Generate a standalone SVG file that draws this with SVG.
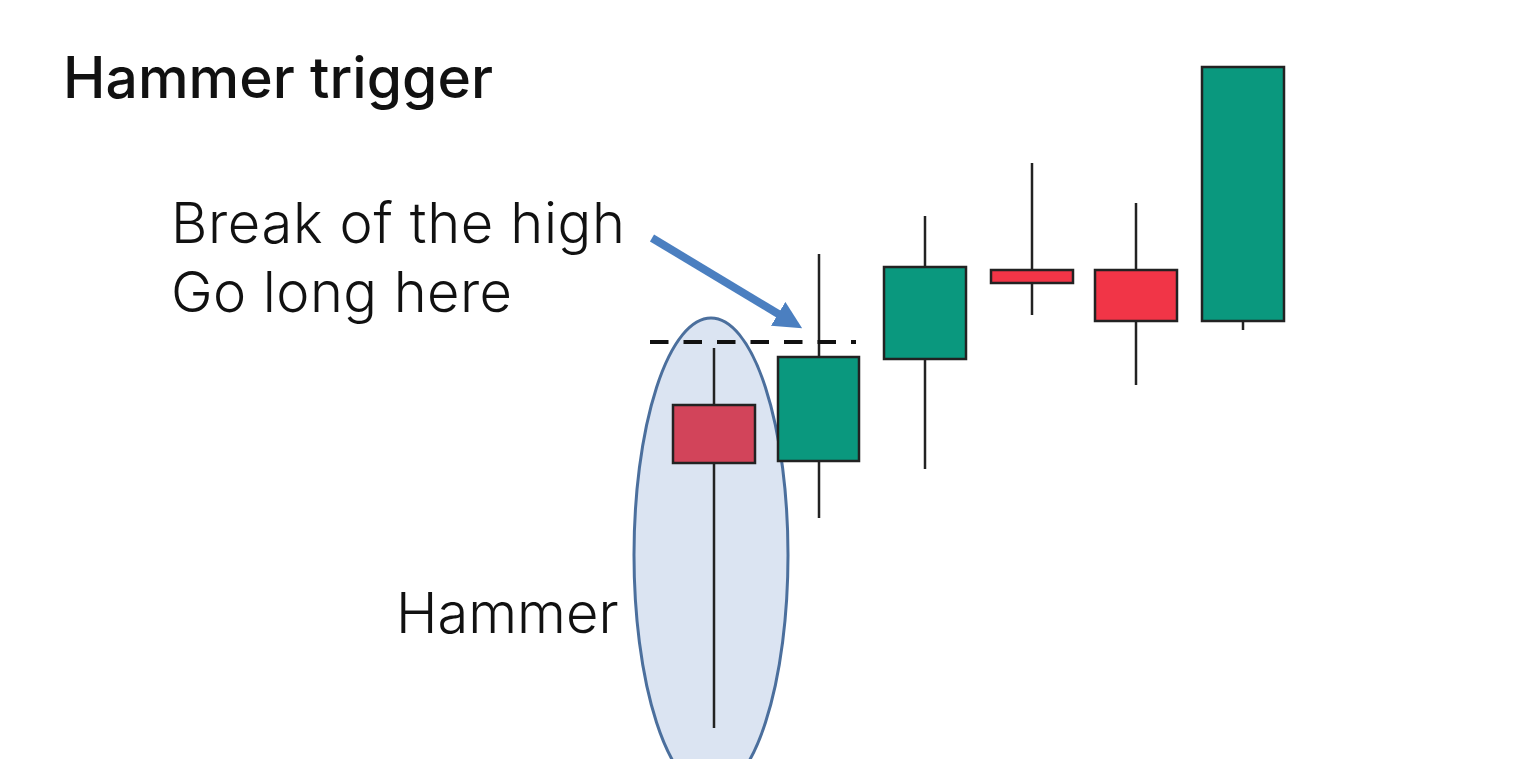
<svg xmlns="http://www.w3.org/2000/svg" width="1518" height="759" viewBox="0 0 1518 759">
  <style>
    .txt { font-family: Inter, "Noto Sans", "Liberation Sans", sans-serif; fill: #111; }
    .title { font-size: 57px; font-weight: 500; }
    .body { font-size: 56px; font-weight: 300; }
    .wick { stroke: #222; stroke-width: 2.5; }
    .body-c { stroke: #222; stroke-width: 2.5; }
    .green { fill: #0a987e; }
    .red { fill: #f13547; }
    .hred { fill: #d2445a; }
  </style>
  <defs>
    <marker id="ah" markerUnits="userSpaceOnUse" markerWidth="30" markerHeight="30" refX="8" refY="14" orient="auto">
      <path d="M0,0 L28,14 L0,28 z" fill="#4b7fc0"/>
    </marker>
  </defs>
  <rect width="1518" height="759" fill="#ffffff"/>

  <text class="txt title" x="63" y="98" textLength="430" lengthAdjust="spacing">Hammer trigger</text>

  <g id="label-break">
    <text class="txt body" x="171" y="243" textLength="454" lengthAdjust="spacing">Break of the high</text>
    <text class="txt body" x="171" y="312" textLength="341" lengthAdjust="spacing">Go long here</text>
  </g>

  <g id="hammer-ellipse">
    <ellipse cx="711" cy="555" rx="77" ry="237" fill="#dbe4f2" stroke="#4b6f9d" stroke-width="3"/>
  </g>
  <g id="label-hammer">
    <text class="txt body" x="396" y="633">Hammer</text>
  </g>

  <g id="candle-1">
    <line class="wick" x1="714" y1="348" x2="714" y2="728"/>
    <rect class="body-c hred" x="673" y="405" width="82" height="58"/>
  </g>
  <g id="candle-2">
    <line class="wick" x1="819" y1="254" x2="819" y2="518"/>
    <rect class="body-c green" x="778" y="357" width="81" height="104"/>
  </g>
  <g id="candle-3">
    <line class="wick" x1="925" y1="216" x2="925" y2="469"/>
    <rect class="body-c green" x="884" y="267" width="82" height="92"/>
  </g>
  <g id="candle-4">
    <line class="wick" x1="1032" y1="163" x2="1032" y2="315"/>
    <rect class="body-c red" x="991" y="270" width="82" height="13"/>
  </g>
  <g id="candle-5">
    <line class="wick" x1="1136" y1="203" x2="1136" y2="385"/>
    <rect class="body-c red" x="1095" y="270" width="82" height="51"/>
  </g>
  <g id="candle-6">
    <line class="wick" x1="1243" y1="321" x2="1243" y2="330"/>
    <rect class="body-c green" x="1202" y="67" width="82" height="254"/>
  </g>

  <g id="connectors">
    <line x1="650" y1="342" x2="856" y2="342" stroke="#111" stroke-width="4" stroke-dasharray="18.5 15"/>
    <line x1="652" y1="238" x2="785" y2="318" stroke="#4b7fc0" stroke-width="8" marker-end="url(#ah)"/>
  </g>
</svg>
